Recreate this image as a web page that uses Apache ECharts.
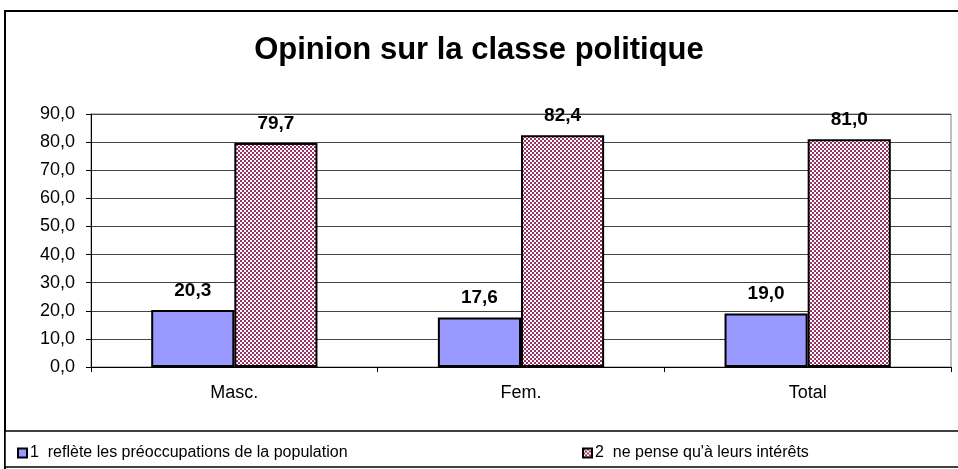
<!DOCTYPE html>
<html>
<head>
<meta charset="utf-8">
<script src="https://cdn.jsdelivr.net/npm/echarts@6/dist/echarts.min.js"></script>
<style>
  html, body { margin: 0; padding: 0; background: #fff; }
  #chart { width: 958px; height: 469px; }
</style>
</head>
<body>
<div id="chart"></div>
<script>
const categories = ['Masc.', 'Fem.', 'Total']
const seriesNames = ['1  reflète les préoccupations de la population', '2  ne pense qu\'à leurs intérêts']
const reflete = [20.3, 17.6, 19.0]
const interets = [79.7, 82.4, 81.0]

const fmt = v => v.toFixed(1).replace('.', ',')
const font = '"Liberation Sans", Arial, sans-serif'

// checkerboard fill like the excel pattern
function checker() {
  const c = document.createElement('canvas')
  c.width = 4
  c.height = 4
  const ctx = c.getContext('2d')
  ctx.fillStyle = '#ffffff'
  ctx.fillRect(0, 0, 4, 4)
  ctx.fillStyle = '#993366'
  ctx.fillRect(0, 0, 2, 2)
  ctx.fillRect(2, 2, 2, 2)
  return c
}

const chart = echarts.init(document.getElementById('chart'))

const labelStyle = {
  show: true,
  position: 'top',
  distance: 10,
  color: '#000',
  fontWeight: 'bold',
  fontSize: 19,
  fontFamily: font,
  formatter: p => fmt(p.value)
}

const legendText = { color: '#000', fontSize: 16, fontFamily: font, padding: [0, 0, 0, -2] }

chart.setOption({
  animation: false,
  backgroundColor: '#fff',
  title: {
    text: 'Opinion sur la classe politique',
    left: 'center',
    top: 30,
    textStyle: {
      color: '#000',
      fontSize: 31,
      fontWeight: 'bold',
      fontFamily: font
    }
  },
  graphic: [
    {
      type: 'rect',
      shape: { x: 5, y: 11, width: 960, height: 470 },
      style: { fill: 'none', stroke: '#000', lineWidth: 2 },
      z: -1
    },
    {
      type: 'rect',
      shape: { x: 5, y: 431, width: 960, height: 36 },
      style: { fill: '#fff', stroke: '#000', lineWidth: 1.5 },
      z: -1
    }
  ],
  legend: [
    {
      data: [seriesNames[0]],
      left: 12,
      top: 440,
      itemWidth: 9,
      itemHeight: 9,
      icon: 'rect',
      textStyle: legendText
    },
    {
      data: [seriesNames[1]],
      left: 577,
      top: 440,
      itemWidth: 9,
      itemHeight: 9,
      icon: 'rect',
      textStyle: legendText
    }
  ],
  grid: {
    left: 91,
    right: 7,
    top: 114,
    bottom: 102,
    show: true,
    borderColor: '#808080',
    borderWidth: 1
  },
  xAxis: {
    type: 'category',
    data: categories,
    axisLine: { lineStyle: { color: '#000', width: 1 } },
    axisTick: { show: true, length: 5, lineStyle: { color: '#000' } },
    axisLabel: {
      color: '#000',
      fontSize: 18,
      fontFamily: font,
      margin: 17
    }
  },
  yAxis: {
    type: 'value',
    min: 0,
    max: 90,
    interval: 10,
    axisLine: { show: true, lineStyle: { color: '#000', width: 1 } },
    axisTick: { show: true, length: 5, lineStyle: { color: '#000' } },
    splitLine: { lineStyle: { color: '#444', width: 1 } },
    axisLabel: {
      color: '#000',
      fontSize: 18,
      fontFamily: font,
      margin: 16,
      formatter: v => fmt(v)
    }
  },
  series: [
    {
      name: seriesNames[0],
      type: 'bar',
      data: reflete,
      barGap: '0%',
      barCategoryGap: '42%',
      itemStyle: { color: '#9999FF', borderColor: '#000', borderWidth: 2 },
      label: labelStyle
    },
    {
      name: seriesNames[1],
      type: 'bar',
      data: interets,
      barGap: '0%',
      barCategoryGap: '42%',
      itemStyle: {
        color: { image: checker(), repeat: 'repeat' },
        borderColor: '#000',
        borderWidth: 2
      },
      label: labelStyle
    }
  ]
})
</script>
</body>
</html>
